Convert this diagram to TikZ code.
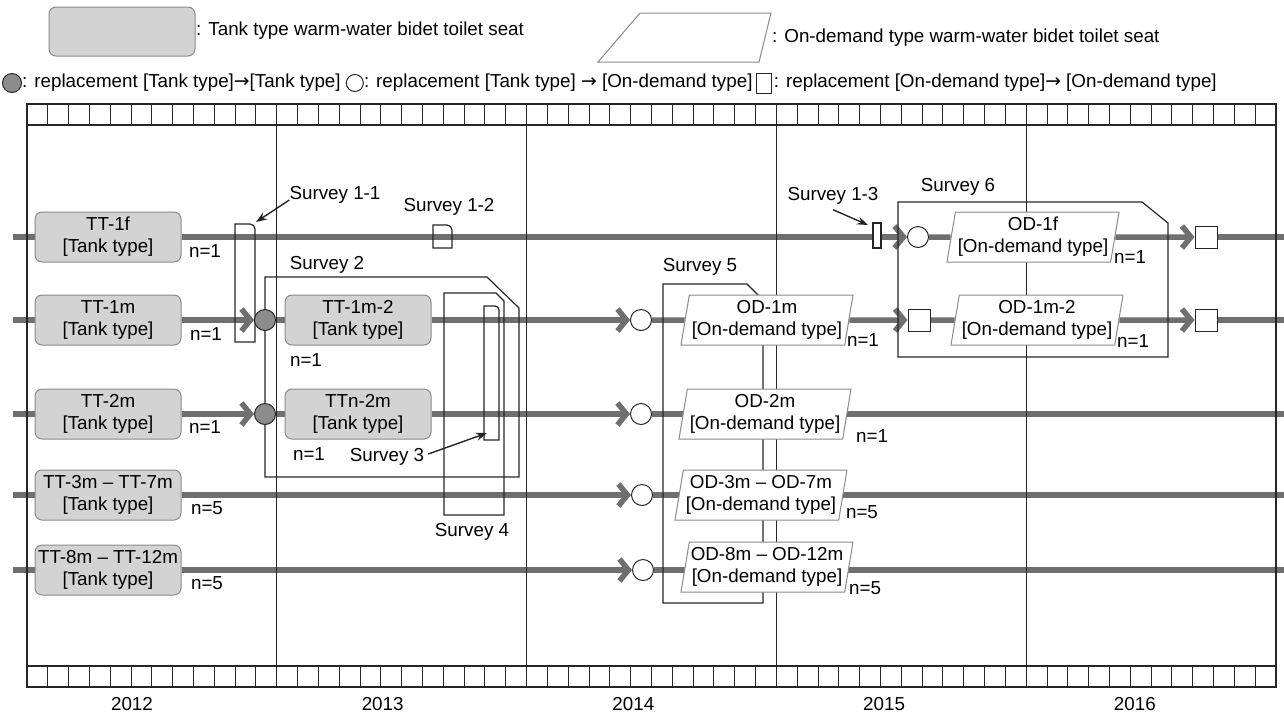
\documentclass[tikz,border=0pt]{standalone}
\usepackage{fontspec}
\setmainfont{Liberation Sans}
\newfontfamily\arrowfont{DejaVu Sans}
\usetikzlibrary{positioning,shapes.geometric,arrows.meta}
\pgfdeclarelayer{flow}
\pgfdeclarelayer{frame}
\pgfsetlayers{flow,frame,main}
\definecolor{flowgray}{HTML}{6F6F6F}
\definecolor{tankgray}{HTML}{D3D3D3}
\definecolor{edgegray}{HTML}{8A8A8A}
\definecolor{repgray}{HTML}{8C8C8C}
\definecolor{ink}{HTML}{262626}
\newcommand{\tanklabel}{[Tank type]}
\newcommand{\demandlabel}{[On-demand type]}
\newcommand{\toarrow}{{\arrowfont →}}

\begin{document}
\begin{tikzpicture}[x=1pt, y=-1pt,
		every node/.style={text centered, font=\fontsize{18.8}{22}\selectfont, inner sep=0pt},
		tank/.style={rectangle, rounded corners=7pt, draw=edgegray, fill=tankgray, line width=1pt, minimum width=146pt, minimum height=50pt, align=center},
		demand/.style={trapezium, trapezium left angle=78, trapezium right angle=102, trapezium stretches body, draw=edgegray, fill=white, line width=1pt, minimum width=172pt, minimum height=50pt, align=center},
		torep/.style={circle, draw=ink, fill=repgray, line width=1pt, minimum size=21pt},
		toon/.style={circle, draw=ink, fill=white, line width=1pt, minimum size=21pt},
		onon/.style={rectangle, draw=ink, fill=white, line width=1pt, minimum size=22pt},
		flow/.style={draw=flowgray, line width=5.5pt},
		feed/.style={flow, -{Straight Barb[length=9pt, width=22pt]}},
		survey/.style={draw=ink, line width=1.2pt},
		pointer/.style={draw=ink, line width=1.4pt, -{Stealth[length=11pt, width=8pt]}}]
	\useasboundingbox (0,0) rectangle (1284,716);

	% legend
	\node[tank, minimum height=49pt] (lgtank) at (122,31.5) {};
	\node[anchor=west] (lgtanktxt) at (196,31) {: Tank type warm-water bidet toilet seat};
	\draw[draw=edgegray, line width=1pt] (598,62) -- (640,13) -- (771,13) -- (759,62) -- cycle;
	\node[anchor=west] (lgdemandtxt) at (772,38) {: On-demand type warm-water bidet toilet seat};
	\node[torep, minimum size=19pt] (lgrep) at (12,83) {};
	\node[anchor=west] (lgreptxt) at (lgrep.east) {: replacement [Tank type]\toarrow[Tank type]};
	\node[toon, minimum size=17pt, right=5pt of lgreptxt] (lgon) {};
	\node[right=0pt of lgon] (lgontxt) {: replacement [Tank type] \toarrow\ [On-demand type]};
	\node[onon, minimum width=15pt, minimum height=20pt, right=3pt of lgontxt] (lgsq) {};
	\node[right=2pt of lgsq] (lgsqtxt) {: replacement [On-demand type]\toarrow\ [On-demand type]};

	% time axis
	\begin{pgfonlayer}{frame}
		\draw[ink, line width=1.2pt] (27,104) rectangle (1276,687);
		\draw[ink, line width=1.2pt] (27,125) -- (1276,125) (27,666) -- (1276,666);
		\foreach \m in {1,...,59}
			\draw[ink, line width=1pt] ({27+\m*20.817},104) -- ++(0,21) ({27+\m*20.817},666) -- ++(0,21);
		\foreach \y in {1,...,4}
			\draw[ink, line width=1.2pt] ({27+\y*249.8},125) -- ++(0,541);
	\end{pgfonlayer}
	\foreach \yr [count=\i from 0] in {2012,...,2016}
		\node (yr\yr) at ({132+\i*250.7},704) {\yr};

	% seats
	\node[tank] (tt1f) at (108,237) {TT-1f\\\tanklabel};
	\node[tank] (tt1m) at (108,320) {TT-1m\\\tanklabel};
	\node[tank] (tt2m) at (108,414) {TT-2m\\\tanklabel};
	\node[tank] (tt3m) at (108,495) {TT-3m – TT-7m\\\tanklabel};
	\node[tank] (tt8m) at (108,570) {TT-8m – TT-12m\\\tanklabel};
	\node[tank] (tt1mb) at (358,320) {TT-1m-2\\\tanklabel};
	\node[tank] (ttn2m) at (358,414) {TTn-2m\\\tanklabel};
	\node[demand] (od1m) at (767,320) {OD-1m\\\demandlabel};
	\node[demand] (od2m) at (765,414) {OD-2m\\\demandlabel};
	\node[demand] (od3m) at (761,495) {OD-3m – OD-7m\\\demandlabel};
	\node[demand] (od8m) at (767,567) {OD-8m – OD-12m\\\demandlabel};
	\node[demand] (od1f) at (1033,237) {OD-1f\\\demandlabel};
	\node[demand] (od1mb) at (1037,320) {OD-1m-2\\\demandlabel};

	% replacements
	\node[torep] (rp1m) at (265,320) {};
	\node[torep] (rp2m) at (265,414) {};
	\node[toon] (on1m) at (641,320) {};
	\node[toon] (on2m) at (641,414) {};
	\node[toon] (on3m) at (642,495) {};
	\node[toon] (on8m) at (643,570) {};
	\node[toon] (on1f) at (918,237) {};
	\node[onon] (sq1m) at (919,320) {};
	\node[onon] (sq1f) at (1206,237) {};
	\node[onon] (sq1mb) at (1206,320) {};

	% counts
	\draw (205,251) node (n1f) {n=1}
		(206,334) node (n1m) {n=1}
		(205,427) node (n2m) {n=1}
		(207,508) node (n3m) {n=5}
		(207,583) node (n8m) {n=5}
		(306,360) node (n1mb) {n=1}
		(309,454) node (nn2m) {n=1}
		(863,340) node (nod1m) {n=1}
		(872,436) node (nod2m) {n=1}
		(862,512) node (nod3m) {n=5}
		(865,588) node (nod8m) {n=5}
		(1130,257) node (nod1f) {n=1}
		(1133,341) node (nod1mb) {n=1};

	% rows
	\coordinate (r1in) at (13,237);  \coordinate (r1out) at (1284,237);
	\coordinate (r2in) at (13,320);  \coordinate (r2out) at (1284,320);
	\coordinate (r3in) at (13,414);  \coordinate (r3out) at (1284,414);
	\coordinate (r4in) at (13,495);  \coordinate (r4out) at (1284,495);
	\coordinate (r5in) at (13,570);  \coordinate (r5out) at (1284,570);
	\begin{pgfonlayer}{flow}
		\draw[flow] (r1in) -- (tt1f);
		\draw[feed] (tt1f) -- (on1f);
		\draw[flow] (on1f) -- (od1f);
		\draw[feed] (od1f) -- (sq1f);
		\draw[flow] (sq1f) -- (r1out);

		\draw[flow] (r2in) -- (tt1m);
		\draw[feed] (tt1m) -- (rp1m);
		\draw[flow] (rp1m) -- (tt1mb);
		\draw[feed] (tt1mb) -- (on1m);
		\draw[flow] (on1m) -- (od1m);
		\draw[feed] (od1m) -- (sq1m);
		\draw[flow] (sq1m) -- (od1mb);
		\draw[feed] (od1mb) -- (sq1mb);
		\draw[flow] (sq1mb) -- (r2out);

		\draw[flow] (r3in) -- (tt2m);
		\draw[feed] (tt2m) -- (rp2m);
		\draw[flow] (rp2m) -- (ttn2m);
		\draw[feed] (ttn2m) -- (on2m);
		\draw[flow] (on2m) -- (r3out);

		\draw[flow] (r4in) -- (tt3m);
		\draw[feed] (tt3m) -- (on3m);
		\draw[flow] (on3m) -- (r4out);

		\draw[flow] (r5in) -- (tt8m);
		\draw[feed] (tt8m) -- (on8m);
		\draw[flow] (on8m) -- (r5out);
	\end{pgfonlayer}

	% surveys
	\begin{pgfonlayer}{frame}
		\draw[survey] (235,342) -- (235,224) -- (250,224) arc[start angle=90, end angle=0, radius=5pt] -- (255,342) -- cycle;
		\draw[survey] (433,248) -- (433,225) -- (447,225) arc[start angle=90, end angle=0, radius=5pt] -- (452,248) -- cycle;
		\draw[survey, fill=white] (873,223) rectangle (881,248);
		\draw[survey] (265,477) -- (265,277) -- (487,277) -- (519,308) -- (519,477) -- cycle;
		\draw[survey] (484,440) -- (484,306) -- (495,306) arc[start angle=90, end angle=0, radius=4pt] -- (499,440) -- cycle;
		\draw[survey] (444,515) -- (444,293) -- (496,293) -- (504,301) -- (504,515) -- cycle;
		\draw[survey] (663,603) -- (663,284) -- (747,284) -- (763,300) -- (763,603) -- cycle;
		\draw[survey] (898,357) -- (898,202) -- (1142,202) -- (1168,223) -- (1168,357) -- cycle;
	\end{pgfonlayer}
	\node (s11) at (335,195) {Survey 1-1};
	\node (s12) at (449,207) {Survey 1-2};
	\node (s13) at (833,196) {Survey 1-3};
	\node (s2) at (327,265) {Survey 2};
	\node (s3) at (387,457) {Survey 3};
	\node (s4) at (472,532) {Survey 4};
	\node (s5) at (700,267) {Survey 5};
	\node (s6) at (958,187) {Survey 6};
	\coordinate (s11to) at (256,222);
	\coordinate (s13to) at (868,225);
	\coordinate (s3to) at (487,433);
	\draw[pointer] ([yshift=-5pt]s11.west) -- (s11to);
	\draw[pointer] ([yshift=-5pt]s13.south) -- (s13to);
	\draw[pointer] ([shift={(4pt,3pt)}]s3.east) -- (s3to);
\end{tikzpicture}
\end{document}
